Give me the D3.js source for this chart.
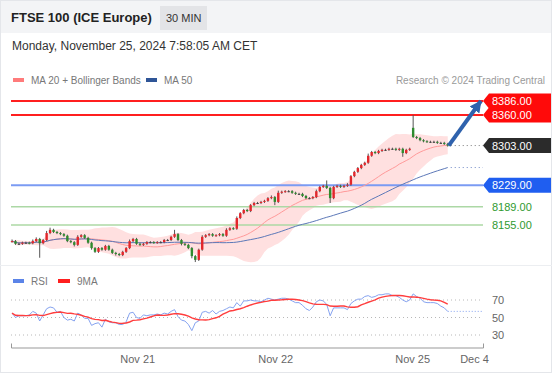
<!DOCTYPE html>
<html>
<head>
<meta charset="utf-8">
<script src="https://cdn.jsdelivr.net/npm/d3@7"></script>
<style>
  html, body { margin: 0; padding: 0; background: #fff; }
  svg { display: block; font-family: "Liberation Sans", Arial, sans-serif; }
</style>
</head>
<body>
<svg id="chart" width="553" height="375"></svg>
<script>
// ---- data (30 min bars, Nov 20 -> Nov 25 07:30 CET) ----
const closes = [
  8125, 8120, 8120, 8122, 8122, 8121, 8125, 8129, 8121, 8127,
  8140, 8146, 8142, 8140, 8138, 8135, 8125, 8123, 8118, 8133,
  8136, 8131, 8122, 8112, 8105, 8112, 8109, 8116, 8109, 8103,
  8101, 8099, 8105, 8112, 8125, 8129, 8120, 8118, 8120, 8123,
  8123, 8122, 8123, 8123, 8127, 8127, 8133, 8138, 8127, 8120,
  8118, 8112, 8097, 8090, 8109, 8133, 8136, 8138, 8135, 8136,
  8138, 8135, 8146, 8149, 8148, 8168, 8177, 8183, 8181, 8192,
  8196, 8196, 8198, 8200, 8205, 8207, 8198, 8215, 8217, 8218,
  8218, 8215, 8213, 8213, 8209, 8205, 8205, 8207, 8218, 8226,
  8228, 8224, 8205, 8226, 8228, 8226, 8228, 8230, 8246, 8254,
  8261, 8267, 8271, 8284, 8291, 8289, 8293, 8295, 8295, 8297,
  8297, 8295, 8297, 8289, 8295, 8297, 8319, 8317, 8313, 8311,
  8310, 8310, 8310, 8308, 8308, 8306, 8303
];
const firstOpen = 8124;
const sessionOpens = { 116: 8336 };   // Monday gap open

// wick length beyond the body, in index points
const wickHi = [
  3, 2, 2, 2, 2, 2, 3, 3, 2, 2,
  4, 4, 2, 2, 2, 2, 2, 2, 2, 3,
  2, 2, 2, 2, 2, 2, 2, 2, 2, 2,
  2, 2, 2, 2, 3, 2, 2, 2, 2, 2,
  2, 2, 2, 2, 2, 2, 2, 8, 2, 2,
  2, 2, 2, 2, 2, 3, 2, 2, 2, 2,
  2, 2, 3, 2, 2, 3, 2, 2, 2, 2,
  2, 2, 2, 2, 2, 3, 2, 4, 2, 2,
  2, 2, 2, 2, 2, 2, 2, 2, 3, 2,
  2, 10, 2, 2, 2, 2, 2, 3, 2, 2,
  2, 2, 2, 4, 2, 2, 2, 2, 2, 2,
  2, 2, 2, 2, 2, 2, 24, 2, 2, 2,
  2, 2, 2, 2, 2, 2, 2
];
const wickLo = [
  2, 2, 2, 2, 2, 2, 2, 2, 27, 2,
  2, 2, 2, 2, 2, 2, 2, 2, 3, 2,
  2, 2, 2, 3, 2, 2, 2, 2, 2, 2,
  3, 2, 2, 2, 2, 2, 2, 2, 2, 2,
  2, 2, 2, 2, 2, 2, 2, 2, 2, 3,
  2, 2, 4, 4, 2, 2, 2, 2, 2, 2,
  2, 2, 2, 2, 2, 2, 2, 2, 2, 2,
  2, 2, 2, 2, 2, 2, 6, 2, 2, 2,
  2, 2, 2, 2, 2, 2, 2, 2, 2, 2,
  2, 2, 9, 2, 2, 2, 2, 2, 2, 2,
  2, 2, 2, 2, 2, 2, 2, 2, 2, 2,
  2, 2, 2, 7, 2, 2, 2, 2, 2, 2,
  2, 2, 2, 2, 2, 2, 2
];

const rsi = [
  55, 50, 52, 52, 52, 53, 57, 55, 46, 53,
  60, 62, 61, 56, 57, 50, 47, 48, 46, 55,
  53, 49, 49, 41, 43, 44, 39, 48, 45, 44,
  44, 42, 42, 45, 55, 56, 50, 49, 53, 52,
  53, 53, 54, 53, 55, 54, 57, 59, 51, 47,
  46, 42, 35, 44, 46, 56, 57, 55, 58, 54,
  57, 58, 60, 62, 61, 67, 63, 69, 69, 70,
  69, 69, 68, 70, 72, 71, 70, 71, 72, 72,
  71, 69, 67, 67, 64, 60, 58, 62, 68, 70,
  69, 65, 52, 61, 61, 61, 61, 59, 66, 69,
  71, 71, 74, 75, 73, 74, 76, 76, 77, 77,
  75, 75, 73, 70, 68, 70, 77, 74, 72, 68,
  67, 67, 67, 66, 63, 61, 57
];

const resistances = [8386, 8360];
const pivot = 8229;
const supports = [8189, 8155];
const lastPrice = 8303;
const targetIdx = 135.6;

const rsiLevels = [70, 50, 30];
const xTickPos = [36.2, 76.1, 115.7, 133.6];
const xTickLabels = ['Nov 21', 'Nov 22', 'Nov 25', 'Dec 4'];

// ---- helpers ----
const win = (arr, i, n) => arr.slice(Math.max(0, i - n + 1), i + 1);
const sma = (arr, n) => arr.map((_, i) => d3.mean(win(arr, i, n)));
const sdev = (arr, n) => arr.map((_, i) => {
  const w = win(arr, i, n), m = d3.mean(w);
  return Math.sqrt(d3.mean(w, v => (v - m) * (v - m)));
});

const ma20 = sma(closes, 20);
const sd20 = sdev(closes, 20);
const ma50 = sma(closes, 50);
const rsiMa = sma(rsi, 9);

const bars = closes.map((c, i) => {
  const o = i === 0 ? firstOpen : (sessionOpens[i] ?? closes[i - 1]);
  return { i, o, c, h: Math.max(o, c) + wickHi[i], l: Math.min(o, c) - wickLo[i] };
});

// ---- scales ----
const x = d3.scaleLinear().domain([-0.3, 136.2]).range([11, 483]);
const y = d3.scaleLinear().domain([8155, 8386]).range([225, 101]);
const yR = d3.scaleLinear().domain([30, 70]).range([335, 300]);

const svg = d3.select('#chart');
const last = closes.length - 1;

// ---- frame / header ----
svg.append('rect').attr('x', 0).attr('y', 0).attr('width', 552).attr('height', 33).attr('fill', '#f3f4f6');
svg.append('rect').attr('x', 0.5).attr('y', 0.5).attr('width', 551).attr('height', 372)
  .attr('fill', 'none').attr('stroke', '#e4e6ea');
svg.append('line').attr('x1', 0).attr('x2', 552).attr('y1', 265.5).attr('y2', 265.5).attr('stroke', '#eceef1');

svg.append('text').attr('x', 11).attr('y', 22).attr('font-size', 13).attr('font-weight', 'bold')
  .attr('fill', '#222').text('FTSE 100 (ICE Europe)');
svg.append('rect').attr('x', 160).attr('y', 6).attr('width', 47).attr('height', 24).attr('fill', '#e3e4e7');
svg.append('text').attr('x', 166).attr('y', 22).attr('font-size', 11).attr('fill', '#333').text('30 MIN');
svg.append('text').attr('x', 12).attr('y', 50).attr('font-size', 12).attr('fill', '#333')
  .text('Monday, November 25, 2024 7:58:05 AM CET');

// legend
svg.append('rect').attr('x', 13).attr('y', 78).attr('width', 11).attr('height', 4).attr('fill', '#ff7b7b');
svg.append('text').attr('x', 31).attr('y', 84).attr('font-size', 10).attr('fill', '#777').text('MA 20 + Bollinger Bands');
svg.append('rect').attr('x', 146).attr('y', 78).attr('width', 11).attr('height', 4).attr('fill', '#2f5597');
svg.append('text').attr('x', 164).attr('y', 84).attr('font-size', 10).attr('fill', '#777').text('MA 50');
svg.append('text').attr('x', 545).attr('y', 84).attr('font-size', 10).attr('fill', '#9a9a9a')
  .attr('text-anchor', 'end').text('Research \u00a9 2024 Trading Central');

// ---- Bollinger band + MAs ----
const g = svg.append('g');
g.append('path')
  .datum(closes)
  .attr('d', d3.area().x((_, i) => x(i)).y0((_, i) => y(ma20[i] - 2 * sd20[i])).y1((_, i) => y(ma20[i] + 2 * sd20[i])))
  .attr('fill', '#ffe0e0');

// horizontal levels
resistances.forEach(v => {
  g.append('line').attr('x1', 11).attr('x2', 483).attr('y1', y(v)).attr('y2', y(v))
    .attr('stroke', '#ff1f1f').attr('stroke-width', 2);
});
g.append('line').attr('x1', 11).attr('x2', 483).attr('y1', y(pivot)).attr('y2', y(pivot))
  .attr('stroke', '#7b9bf3').attr('stroke-width', 2);
supports.forEach(v => {
  g.append('line').attr('x1', 11).attr('x2', 483).attr('y1', y(v)).attr('y2', y(v))
    .attr('stroke', '#acd8a5').attr('stroke-width', 1.3);
});

g.append('path').datum(ma20)
  .attr('d', d3.line().x((_, i) => x(i)).y(d => y(d)))
  .attr('fill', 'none').attr('stroke', '#ff9a9a').attr('stroke-width', 1);
g.append('path').datum(ma50)
  .attr('d', d3.line().x((_, i) => x(i)).y(d => y(d)))
  .attr('fill', 'none').attr('stroke', '#5c78b8').attr('stroke-width', 1);

// dotted extensions
g.append('line').attr('x1', x(last) + 3).attr('x2', 483).attr('y1', y(lastPrice)).attr('y2', y(lastPrice))
  .attr('stroke', '#777').attr('stroke-dasharray', '1,3');
g.append('line').attr('x1', x(last) + 3).attr('x2', 483).attr('y1', y(ma50[last])).attr('y2', y(ma50[last]))
  .attr('stroke', '#6d86c4').attr('stroke-dasharray', '1,3');

// ---- candles ----
const cg = g.append('g');
const candle = cg.selectAll('g').data(bars).join('g');
candle.append('line')
  .attr('x1', d => x(d.i)).attr('x2', d => x(d.i))
  .attr('y1', d => y(d.h)).attr('y2', d => y(d.l))
  .attr('stroke', '#555').attr('stroke-width', 1);
candle.append('rect')
  .attr('x', d => x(d.i) - 1.2).attr('width', 2.4)
  .attr('y', d => y(Math.max(d.o, d.c)))
  .attr('height', d => Math.max(1, Math.abs(y(d.o) - y(d.c))))
  .attr('fill', d => d.c > d.o ? '#e3262b' : d.c < d.o ? '#2e8b2e' : '#444');

// ---- projection arrow ----
svg.append('defs').append('marker')
  .attr('id', 'ah').attr('markerUnits', 'userSpaceOnUse')
  .attr('viewBox', '0 -6 12 12').attr('refX', 11).attr('refY', 0)
  .attr('markerWidth', 12).attr('markerHeight', 12).attr('orient', 'auto')
  .append('path').attr('d', 'M0,-6L12,0L0,6Z').attr('fill', '#2f62ad');
svg.append('line')
  .attr('x1', x(last) + 1).attr('y1', y(lastPrice))
  .attr('x2', x(targetIdx)).attr('y2', y(resistances[0]))
  .attr('stroke', '#2f62ad').attr('stroke-width', 4).attr('marker-end', 'url(#ah)');

// ---- price labels ----
function tag(v, fill, txtColor) {
  const cy = y(v);
  svg.append('path')
    .attr('d', `M483,${cy} L489,${cy - 7.5} L551,${cy - 7.5} L551,${cy + 7.5} L489,${cy + 7.5} Z`)
    .attr('fill', fill);
  svg.append('text').attr('x', 492).attr('y', cy + 4).attr('font-size', 11).attr('fill', txtColor)
    .text(v.toFixed(2));
}
resistances.forEach(v => tag(v, '#ff0a0a', '#fff'));
tag(lastPrice, '#2b2b2b', '#fff');
tag(pivot, '#1f5ef0', '#fff');
supports.forEach(v => {
  svg.append('text').attr('x', 492).attr('y', y(v) + 4).attr('font-size', 11).attr('fill', '#2f9a2f')
    .text(v.toFixed(2));
});

// ---- RSI panel ----
svg.append('rect').attr('x', 13).attr('y', 279).attr('width', 11).attr('height', 4).attr('fill', '#5b84e8');
svg.append('text').attr('x', 31).attr('y', 285).attr('font-size', 10).attr('fill', '#777').text('RSI');
svg.append('rect').attr('x', 58).attr('y', 279).attr('width', 12).attr('height', 4).attr('fill', '#ff1f1f');
svg.append('text').attr('x', 77).attr('y', 285).attr('font-size', 10).attr('fill', '#777').text('9MA');

rsiLevels.forEach(v => {
  svg.append('line').attr('x1', 11).attr('x2', 483).attr('y1', yR(v)).attr('y2', yR(v))
    .attr('stroke', '#b8b8b8').attr('stroke-dasharray', '1,3');
  svg.append('text').attr('x', 492).attr('y', yR(v) + 4).attr('font-size', 11).attr('fill', '#666').text(v);
});

svg.append('path').datum(rsi)
  .attr('d', d3.line().x((_, i) => x(i)).y(d => yR(d)))
  .attr('fill', 'none').attr('stroke', '#86a3f0').attr('stroke-width', 1);
svg.append('path').datum(rsiMa)
  .attr('d', d3.line().x((_, i) => x(i)).y(d => yR(d)))
  .attr('fill', 'none').attr('stroke', '#ff3d3d').attr('stroke-width', 1.4);
svg.append('line').attr('x1', x(last)).attr('x2', 483).attr('y1', yR(rsi[last])).attr('y2', yR(rsi[last]))
  .attr('stroke', '#86a3f0').attr('stroke-dasharray', '1,2');

// ---- time axis ----
const axis = svg.append('g').attr('transform', 'translate(0,347.5)')
  .call(d3.axisBottom(x).tickValues(xTickPos).tickFormat((d, i) => xTickLabels[i])
    .tickSizeInner(0).tickSizeOuter(-4).tickPadding(8));
axis.select('.domain').attr('stroke', '#999');
axis.selectAll('text').attr('fill', '#666').attr('font-size', 11)
  .attr('font-family', '"Liberation Sans", Arial, sans-serif');
</script>
</body>
</html>
